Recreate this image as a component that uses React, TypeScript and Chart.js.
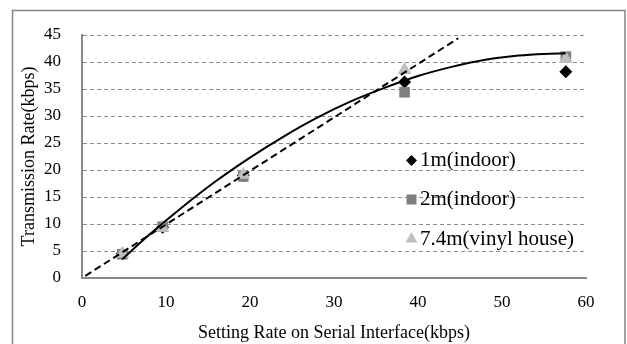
import React, { useEffect, useRef } from 'react';
import { Chart, registerables } from 'chart.js';

Chart.register(...registerables);

// ---- data ----
const settingRates = [4.8, 9.6, 19.2, 38.4, 57.6];
const rate1mIndoor = [4.5, 9.4, 19.0, 36.3, 38.2];
const rate2mIndoor = [4.4, 9.5, 18.8, 34.4, 41.0];
const rate74mVinyl = [4.5, 9.3, 19.1, 38.5, 40.6];
const seriesLabels = ['1m(indoor)', '2m(indoor)', '7.4m(vinyl house)'];

// solid (polynomial) trend line
const polyTrendX = [4.8, 8, 12, 16, 20, 24, 28, 32, 36, 40, 44, 48, 52, 55, 57.6];
const polyTrendY = [3.5, 8.0, 13.2, 18.0, 22.3, 26.2, 29.7, 32.7, 35.2, 37.4, 39.1, 40.4, 41.2, 41.5, 41.6];
// dashed (linear) trend line end points
const linearTrendX = [0.4, 44.8];
const linearTrendY = [0.4, 44.4];

const xTickValues = [0, 10, 20, 30, 40, 50, 60];
const yTickValues = [0, 5, 10, 15, 20, 25, 30, 35, 40, 45];

const xTitle = 'Setting Rate on Serial Interface(kbps)';
const yTitle = 'Transmission Rate(kbps)';

const FONT = "'Liberation Serif', 'Times New Roman', serif";
const COLORS = ['#000000', '#7f7f7f', '#bfbfbf'];
const STYLES = ['rectRot', 'rect', 'triangle'];

const toPoints = (xs: number[], ys: number[]) => xs.map((x, i) => ({ x, y: ys[i] }));

function drawMarker(ctx: CanvasRenderingContext2D, style: string, x: number, y: number, s: number, color: string) {
  ctx.save();
  ctx.fillStyle = color;
  ctx.beginPath();
  if (style === 'rectRot') {
    ctx.moveTo(x, y - s);
    ctx.lineTo(x + s, y);
    ctx.lineTo(x, y + s);
    ctx.lineTo(x - s, y);
    ctx.closePath();
  } else if (style === 'rect') {
    ctx.rect(x - s, y - s, 2 * s, 2 * s);
  } else {
    const h = s * 1.0;
    ctx.moveTo(x, y - h);
    ctx.lineTo(x + s, y + h * 0.75);
    ctx.lineTo(x - s, y + h * 0.75);
    ctx.closePath();
  }
  ctx.fill();
  ctx.restore();
}

const frameAndLegend = {
  id: 'frameAndLegend',
  beforeDraw(chart: any) {
    const ctx = chart.ctx as CanvasRenderingContext2D;
    ctx.save();
    ctx.fillStyle = '#ffffff';
    ctx.fillRect(0, 0, chart.width, chart.height);
    ctx.strokeStyle = '#8a8a8a';
    ctx.lineWidth = 1.6;
    ctx.strokeRect(12.5, 10.5, 612.5, 345);
    ctx.restore();
  },
  afterDraw(chart: any) {
    const ctx = chart.ctx as CanvasRenderingContext2D;
    const area = chart.chartArea;
    const markerX = area.left + 329.5;
    const textX = area.left + 338;
    const rows = [160.5, 199.5, 239];
    ctx.save();
    ctx.font = `21px ${FONT}`;
    ctx.fillStyle = '#000';
    ctx.textBaseline = 'middle';
    ctx.textAlign = 'left';
    seriesLabels.forEach((label, i) => {
      const y = rows[i];
      const s = i === 0 ? 5.5 : i === 1 ? 5 : 6;
      drawMarker(ctx, STYLES[i], markerX, y + (i === 2 ? -1 : 0), s, COLORS[i]);
      ctx.fillText(label, textX, y);
    });
    ctx.restore();
  },
};

export default function App() {
  const canvasRef = useRef<HTMLCanvasElement | null>(null);

  useEffect(() => {
    if (!canvasRef.current) return;
    const seriesData = [rate1mIndoor, rate2mIndoor, rate74mVinyl];
    const radii = [6.5, 7.5, 8];
    const chart = new Chart(canvasRef.current, {
      type: 'scatter',
      data: {
        datasets: [
          {
            label: 'poly',
            data: toPoints(polyTrendX, polyTrendY),
            showLine: true,
            borderColor: '#000',
            borderWidth: 2,
            pointRadius: 0,
            cubicInterpolationMode: 'monotone',
            order: 0,
          } as any,
          {
            label: 'linear',
            data: toPoints(linearTrendX, linearTrendY),
            showLine: true,
            borderColor: '#000',
            borderWidth: 2,
            borderDash: [7, 4],
            pointRadius: 0,
            order: 1,
          } as any,
          ...seriesData.map((vals, i) => ({
            label: seriesLabels[i],
            data: toPoints(settingRates, vals),
            pointStyle: STYLES[i],
            pointRadius: radii[i],
            pointBackgroundColor: COLORS[i],
            pointBorderColor: COLORS[i],
            pointBorderWidth: 0,
            showLine: false,
            order: 10 - i,
          })),
        ],
      },
      options: {
        animation: false,
        responsive: false,
        devicePixelRatio: 1,
        layout: { padding: { left: 12, right: 41, top: 35, bottom: 0 } },
        plugins: { legend: { display: false }, tooltip: { enabled: false } },
        scales: {
          x: {
            type: 'linear',
            min: 0,
            max: 60,
            afterBuildTicks: (scale: any) => {
              scale.ticks = xTickValues.map((v) => ({ value: v }));
            },
            afterFit: (scale: any) => {
              scale.height = 66;
            },
            grid: { display: false, drawTicks: false },
            border: { display: true, color: '#888888', width: 2 },
            ticks: { color: '#000', font: { family: FONT, size: 17 }, padding: 14, maxRotation: 0 },
            title: {
              display: true,
              text: xTitle,
              color: '#000',
              font: { family: FONT, size: 18 },
              padding: { top: 3, bottom: 0 },
            },
          },
          y: {
            type: 'linear',
            min: 0,
            max: 45,
            afterBuildTicks: (scale: any) => {
              scale.ticks = yTickValues.map((v) => ({ value: v }));
            },
            afterFit: (scale: any) => {
              scale.width = 70;
            },
            grid: { display: true, drawTicks: false, color: '#8c8c8c', lineWidth: 1 },
            border: { display: true, color: '#888888', width: 2, dash: [4, 3] },
            ticks: { color: '#000', font: { family: FONT, size: 17 }, padding: 21 },
            title: {
              display: true,
              text: yTitle,
              color: '#000',
              font: { family: FONT, size: 18 },
              padding: { top: 6, bottom: 0 },
            },
          },
        },
      } as any,
      plugins: [frameAndLegend],
    });
    return () => chart.destroy();
  }, []);

  return (
    <div style={{ position: 'fixed', left: 0, top: 0, width: 627, height: 344, background: '#fff' }}>
      <canvas ref={canvasRef} width={627} height={344} style={{ display: 'block', width: 627, height: 344 }} />
    </div>
  );
}
